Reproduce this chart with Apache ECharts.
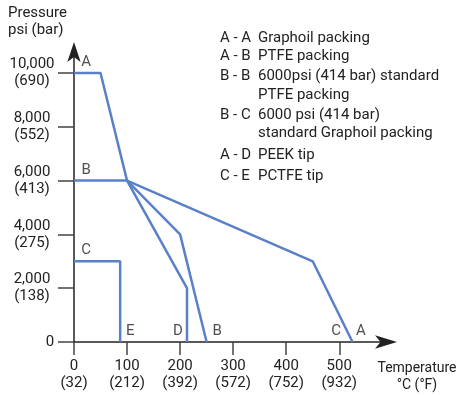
<!DOCTYPE html>
<html>
<head>
<meta charset="utf-8">
<script src="https://cdn.jsdelivr.net/npm/echarts@6/dist/echarts.min.js"></script>
<style>
    html, body { margin: 0; padding: 0; background: #fff; }
    #main { width: 459px; height: 395px; }
</style>
</head>
<body>
<div id="main"></div>
<script>
    // tick values and labels
    var xTicks = [0, 100, 200, 300, 400, 500];
    var xTicksF = ['(32)', '(212)', '(392)', '(572)', '(752)', '(932)'];
    var yTicks = [0, 2000, 4000, 6000, 8000, 10000];
    var yTicksBar = ['', '(138)', '(275)', '(413)', '(552)', '(690)'];

    // curves, [°C, psi]
    var topA = [[0, 10000], [50, 10000], [100, 6000]];
    var flatB = [[0, 6000], [100, 6000]];
    var graphoil = [[100, 6000], [450, 3000], [525, 0]];
    var ptfe = [[100, 6000], [200, 4000], [250, 0]];
    var peek = [[100, 6000], [213, 2000], [213, 0]];
    var pctfe = [[0, 3000], [87, 3000], [87, 0]];

    // end-point letters
    var letters = [[23, 10400, 'A'], [23, 6400, 'B'], [23, 3400, 'C'],
        [106, 390, 'E'], [196, 390, 'D'], [270, 390, 'B'], [494, 390, 'C'], [541, 390, 'A']];

    // key text
    var keyCodes = ['A - A', 'A - B', 'B - B', '', 'B - C', '', 'A - D', 'C - E'];
    var keyTexts = ['Graphoil packing', 'PTFE packing', '6000psi (414 bar) standard', 'PTFE packing',
        '6000 psi (414 bar)', 'standard Graphoil packing', 'PEEK tip', 'PCTFE tip'];
    var keyRowY = [40, 58, 78, 97, 117, 135, 157, 178];

    var FONT = 'Roboto, sans-serif';
    var INK = '#222';
    var BLUE = '#5a80c8';

    var myChart = echarts.init(document.getElementById('main'));

    var graphics = [{
        type: 'text', left: 8, top: 5,
        style: { text: 'Pressure\npsi (bar)', font: '15px ' + FONT, fill: INK, lineHeight: 17 }
    }, {
        type: 'text', x: 417, y: 360,
        style: { text: 'Temperature\n°C (°F)', font: '14px ' + FONT, fill: INK, lineHeight: 17, align: 'center', verticalAlign: 'top' }
    }];
    for (var i = 0; i < keyTexts.length; i++) {
        if (keyCodes[i]) {
            graphics.push({
                type: 'text', left: 220, top: keyRowY[i] - 9,
                style: { text: keyCodes[i], font: '15px ' + FONT, fill: INK }
            });
        }
        graphics.push({
            type: 'text', left: 258, top: keyRowY[i] - 9,
            style: { text: keyTexts[i], font: '15px ' + FONT, fill: INK }
        });
    }

    function lineSeries(data) {
        return {
            type: 'line',
            data: data,
            symbol: 'none',
            silent: true,
            lineStyle: { color: BLUE, width: 2.5 },
            z: 3
        };
    }

    var option = {
        animation: false,
        textStyle: { fontFamily: FONT },
        grid: { left: 74, right: 72, top: 52, bottom: 53 },
        xAxis: {
            type: 'value',
            min: 0,
            max: 590,
            splitLine: { show: false },
            axisLine: {
                lineStyle: { color: INK, width: 1.5 },
                symbol: ['none', 'arrow'],
                symbolSize: [10, 22],
                symbolOffset: [0, 10]
            },
            axisTick: { customValues: xTicks, length: 13, lineStyle: { color: '#444', width: 1.5 } },
            axisLabel: {
                customValues: xTicks,
                margin: 16,
                fontSize: 15,
                lineHeight: 17,
                color: INK,
                formatter: function(v) {
                    return v + '\n' + xTicksF[xTicks.indexOf(v)];
                }
            }
        },
        yAxis: {
            type: 'value',
            min: 0,
            max: 10780,
            splitLine: { show: false },
            axisLine: {
                lineStyle: { color: INK, width: 1.5 },
                symbol: ['none', 'arrow'],
                symbolSize: [10, 20],
                symbolOffset: [0, 10]
            },
            axisTick: { customValues: yTicks, length: 16, lineStyle: { color: '#444', width: 1.5 } },
            axisLabel: {
                customValues: yTicks,
                margin: 42,
                align: 'center',
                fontSize: 15,
                lineHeight: 17,
                color: INK,
                formatter: function(v) {
                    if (v === 0) return '{z|0}';
                    return echarts.format.addCommas(v) + '\n' + yTicksBar[yTicks.indexOf(v)];
                },
                rich: { z: { fontSize: 15, padding: [0, 0, 0, 36], color: INK } }
            }
        },
        series: [
            lineSeries(topA),
            lineSeries(flatB),
            lineSeries(graphoil),
            lineSeries(ptfe),
            lineSeries(peek),
            lineSeries(pctfe),
            {
                type: 'scatter',
                data: letters,
                symbolSize: 0,
                silent: true,
                label: {
                    show: true,
                    position: 'inside',
                    fontSize: 15,
                    color: INK,
                    formatter: function(p) { return p.value[2]; }
                }
            }
        ],
        graphic: graphics
    };
    myChart.setOption(option);

    window.onresize = function() {
        myChart.resize();
    };
</script>
</body>
</html>
